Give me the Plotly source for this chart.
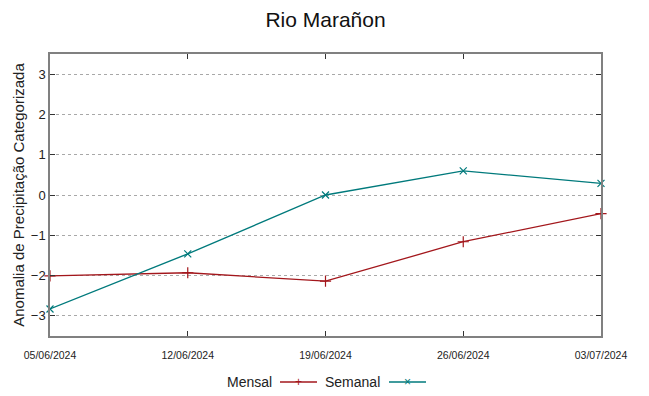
import plotly.graph_objects as go

dates = ["05/06/2024", "12/06/2024", "19/06/2024", "26/06/2024", "03/07/2024"]
mensal = [-2.01, -1.93, -2.14, -1.16, -0.46]
semanal = [-2.83, -1.46, 0.0, 0.60, 0.29]
y_ticks = [-3, -2, -1, 0, 1, 2, 3]

RED = "#a3171c"
TEAL = "#007a7c"
FONT = "Liberation Sans, Arial, sans-serif"

# the page body has an 8px default margin; size the figure to fit the window
OFF = 8
FW, FH = 649 - OFF, 396 - OFF

fig = go.Figure()
fig.add_trace(go.Scatter(x=dates, y=mensal, name="Mensal", mode="lines+markers",
                         line=dict(color=RED, width=1.3),
                         marker=dict(symbol="cross-thin", size=8, line=dict(color=RED, width=1.2)),
                         showlegend=False, cliponaxis=False))
fig.add_trace(go.Scatter(x=dates, y=semanal, name="Semanal", mode="lines+markers",
                         line=dict(color=TEAL, width=1.3),
                         marker=dict(symbol="x-thin", size=7, line=dict(color=TEAL, width=1.2)),
                         showlegend=False, cliponaxis=False))

PL, PR, PT, PB = 50 - OFF, 601 - OFF, 54 - OFF, 336 - OFF
W = float(PR - PL)
H = float(PB - PT)
LEG_Y = -((382 - OFF) - PB) / H

def px(xabs):
    return ((xabs - OFF) - PL) / W

# custom legend (text then sample, gnuplot style)
def legend_entry(label, x_text, x0, x1, color, sym):
    fig.add_annotation(text=label, xref="paper", yref="paper", x=px(x_text), y=LEG_Y,
                       xanchor="right", yanchor="middle", showarrow=False,
                       font=dict(family=FONT, size=14, color="#222"))
    fig.add_shape(type="line", xref="paper", yref="paper", x0=px(x0), x1=px(x1),
                  y0=LEG_Y, y1=LEG_Y, line=dict(color=color, width=1.3))
    fig.add_annotation(text=sym, xref="paper", yref="paper", x=px((x0 + x1) / 2), y=LEG_Y,
                       xanchor="center", yanchor="middle", showarrow=False,
                       font=dict(family=FONT, size=12, color=color))

legend_entry("Mensal", 274, 280, 317, RED, "+")
legend_entry("Semanal", 382, 389, 426, TEAL, "×")

fig.update_layout(
    width=FW, height=FH,
    margin=dict(l=PL, r=FW - PR, t=PT, b=FH - PB, autoexpand=False),
    paper_bgcolor="white", plot_bgcolor="white",
    title=dict(text="Rio Marañon", x=0.5, xanchor="center", xref="paper",
               y=1 - (20 - OFF) / FH, yref="container", yanchor="middle",
               font=dict(family=FONT, size=21, color="#111")),
    font=dict(family=FONT, color="#222"),
)
fig.update_xaxes(type="category", range=[0, 4], showgrid=False, zeroline=False,
                 showline=True, linecolor="#808080", linewidth=1.5, mirror="ticks",
                 ticks="inside", ticklen=5, tickcolor="#333", automargin=False,
                 tickfont=dict(family=FONT, size=10.5, color="#222"), ticklabelstandoff=9)
fig.update_yaxes(range=[-3.5, 3.5], tickvals=y_ticks, showgrid=True, gridcolor="#a8a8a8",
                 griddash="dot", gridwidth=1, zeroline=False, automargin=False,
                 showline=True, linecolor="#808080", linewidth=1.5, mirror="ticks",
                 ticks="inside", ticklen=5, tickcolor="#333",
                 tickfont=dict(family=FONT, size=13, color="#222"),
                 title=dict(text="Anomalia de Precipitação Categorizada",
                            font=dict(family=FONT, size=15, color="#222"), standoff=3))

fig.write_html("out.html")
